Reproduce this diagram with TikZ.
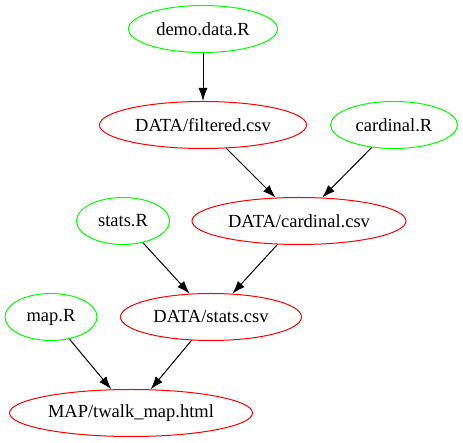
\documentclass[tikz,border=0pt]{standalone}
\usepackage{fontspec}
\setmainfont{Liberation Serif}
\usepackage{xcolor}
\usetikzlibrary{arrows.meta, positioning, shapes.geometric}

\definecolor{scriptgreen}{RGB}{0,255,0}
\definecolor{filered}{RGB}{255,0,0}

% text that does not widen its ellipse
\newcommand{\flatlabel}[1]{\makebox[0pt]{#1}}

\begin{document}
\begin{tikzpicture}[
    x=1pt,
    y=1pt,
    script/.style={
        ellipse,
        draw=scriptgreen,
        line width=1pt,
        inner sep=0pt,
        minimum height=47pt,
        font=\fontsize{18.5}{20}\selectfont
    },
    datafile/.style={
        ellipse,
        draw=filered,
        line width=1pt,
        inner sep=0pt,
        minimum height=47pt,
        font=\fontsize{18.5}{20}\selectfont
    },
    arrow/.style={
        -{Latex[length=13pt, width=9pt]},
        line width=1pt,
        color=black
    }
]

\useasboundingbox (0,0) rectangle (463,443);

% Scripts
\node[script, minimum width=149pt] (demo) at (203,414) {\flatlabel{demo.data.R}};
\node[script, minimum width=127pt] (cardinalR) at (394,318) {\flatlabel{cardinal.R}};
\node[script, minimum width=93pt] (statsR) at (123,222) {\flatlabel{stats.R}};
\node[script, minimum width=92pt] (mapR) at (51,126) {\flatlabel{map.R}};

% Data files
\node[datafile, minimum width=207pt] (filtered) at (203,318) {\flatlabel{DATA/filtered.csv}};
\node[datafile, minimum width=214pt] (cardinal) at (299,222) {\flatlabel{DATA/cardinal.csv}};
\node[datafile, minimum width=181pt] (stats) at (211,126) {\flatlabel{DATA/stats.csv}};
\node[datafile, minimum width=243pt] (map) at (131,30) {\flatlabel{MAP/twalk\_map.html}};

% Dependencies
\draw[arrow] (demo) -- (filtered);
\draw[arrow] (filtered) -- (cardinal);
\draw[arrow] (cardinalR) -- (cardinal);
\draw[arrow] (statsR) -- (stats);
\draw[arrow] (cardinal) -- (stats);
\draw[arrow] (mapR) -- (map);
\draw[arrow] (stats) -- (map);

\end{tikzpicture}
\end{document}
